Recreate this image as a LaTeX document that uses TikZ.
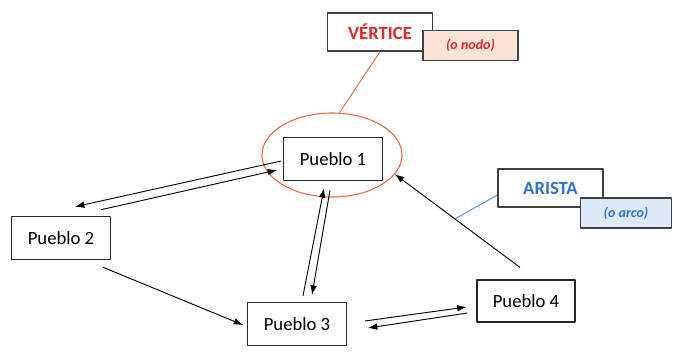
\documentclass[tikz,border=0pt]{standalone}
\usepackage{fontspec}
\setmainfont{Carlito}
\usetikzlibrary{shapes.geometric,calc,arrows.meta}
\definecolor{vred}{HTML}{E3262B}
\definecolor{vline}{HTML}{E2683F}
\definecolor{vfill}{HTML}{FBE3D6}
\definecolor{ablue}{HTML}{2D72D2}
\definecolor{aline}{HTML}{4A8FDB}
\definecolor{afill}{HTML}{DBEAF6}
\begin{document}
\begin{tikzpicture}[x=0.75pt, y=-0.75pt, line join=round, >={Latex[length=7pt,width=5pt]},
  pueblo/.style={draw=black!85, line width=0.9pt, inner sep=0pt, minimum width=74pt, minimum height=32.5pt, font=\fontsize{14}{16}\selectfont},
  tag/.style={draw=black!75, line width=0.9pt, inner sep=0pt, minimum width=78.75pt, minimum height=28.5pt, font=\fontsize{14}{16}\selectfont\bfseries},
  note/.style={draw=black!75, line width=0.9pt, inner sep=0pt, minimum width=70pt, minimum height=22pt, font=\fontsize{10.5}{12}\selectfont\bfseries\itshape},
  link/.style={line width=0.7pt}]
\useasboundingbox (0,0) rectangle (673,356);
% pueblos
\node[pueblo] (p1) at (333,159) {Pueblo 1};
\node[pueblo] (p2) at (61,238) {Pueblo 2};
\node[pueblo] (p3) at (297,324) {Pueblo 3};
\node[pueblo, minimum width=73.5pt, minimum height=31.5pt] (p4) at (526,301) {Pueblo 4};
\node[draw=vline, line width=0.8pt, ellipse, minimum width=105pt, minimum height=63pt, inner sep=0pt] (halo) at (332,155) {};
% aristas
\draw[link,->] ($(p1.west)+(-2,2)$) -- ($(p2.north)+(14,-9)$);
\draw[link,->] ($(p2.north)+(40,-6)$) -- ($(p1.west)+(-6,11)$);
\draw[link,->] ($(p2.south)+(42,7)$) -- ($(p3.west)+(-4,1)$);
\draw[link,->] ($(p3.north)+(6,-6)$) -- ($(p1.south)+(-9,7)$);
\draw[link,->] ($(p1.south)+(-3,9)$) -- ($(p3.north)+(15,-7)$);
\draw[link,->] ($(p3.east)+(18,-3)$) -- ($(p4.west)+(-10,6)$);
\draw[link,->] ($(p4.west)+(-9,12)$) -- ($(p3.east)+(21,4)$);
\draw[link,->] ($(p4.north)+(-6,-12)$) -- coordinate[pos=0.52] (hit) (halo.-17);
% etiquetas
\node[tag, fill=white, text=vred] (vert) at (380,32) {VÉRTICE};
\node[note, fill=vfill, text=vred, minimum width=71.25pt] (nodo) at (470.5,45.5) {(o nodo)};
\draw[vline, link] (vert.south) -- (halo.80);
\node[tag, fill=white, text=ablue] (arista) at (550.5,188) {ARISTA};
\node[note, fill=afill, text=ablue, minimum width=68pt, minimum height=22.5pt] (arco) at (626,213) {(o arco)};
\draw[aline, link] ($(arista.west)+(0,7)$) -- (hit);
\end{tikzpicture}
\end{document}
